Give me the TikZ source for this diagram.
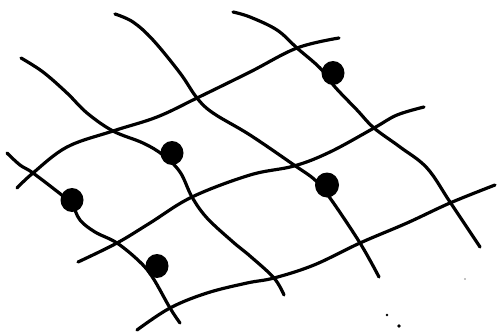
\documentclass[tikz,border=0pt]{standalone}
\begin{document}
\begin{tikzpicture}[x=1pt,y=-1pt,
  stroke/.style={line width=3.2pt,line cap=round,line join=round},
  blob/.style={fill=black}]
\useasboundingbox (0,0) rectangle (497,335);
% down lines
\draw[stroke] plot[smooth,tension=0.6] coordinates {(7,153) (20,165) (33,173) (63,196) (72,204) (80,220) (95,232) (117,243) (140,262) (153,278) (170,308) (180,323)};
\draw[stroke] plot[smooth,tension=0.6] coordinates {(21,58) (43,72) (67,93) (87,113) (113,131) (143,143) (163,155) (180,172) (192,197) (207,218) (233,242) (250,256) (274,278) (284,295)};
\draw[stroke] plot[smooth,tension=0.6] coordinates {(115,14) (133,22) (153,40) (180,73) (197,98) (213,113) (250,135) (294,165) (315,180) (330,198) (360,243) (379,277)};
\draw[stroke] plot[smooth,tension=0.6] coordinates {(233,12) (250,17) (277,30) (297,48) (320,68) (335,87) (357,110) (374,128) (400,147) (427,168) (450,202) (480,247)};
% rising lines
\draw[stroke] plot[smooth,tension=0.6] coordinates {(17,188) (33,173) (67,147) (113,131) (157,117) (197,98) (250,72) (297,48) (339,38)};
\draw[stroke] plot[smooth,tension=0.6] coordinates {(78,262) (117,243) (150,223) (192,197) (250,175) (294,166) (330,152) (374,128) (397,115) (424,107)};
\draw[stroke] plot[smooth,tension=0.6] coordinates {(137,330) (170,308) (207,293) (247,283) (274,278) (314,265) (360,243) (407,223) (450,203) (495,185)};
% dots
\fill[blob] (72,200) ellipse (11.5 and 12);
\fill[blob] (157,266) ellipse (11.5 and 12);
\fill[blob] (172,153) ellipse (11.5 and 12);
\fill[blob] (327,185) ellipse (12 and 12.5);
\fill[blob] (333,73) ellipse (11.5 and 12);
% specks
\fill (387,315) circle (1.3);
\fill (399,326) circle (1.8);
\fill (465,279) circle (0.6);
\end{tikzpicture}
\end{document}
